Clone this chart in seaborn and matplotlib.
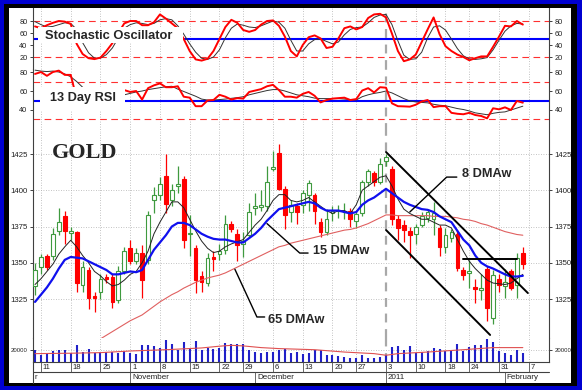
import numpy as np
import pandas as pd
import matplotlib
matplotlib.use("Agg")
import matplotlib.pyplot as plt
from matplotlib.patches import Rectangle
import seaborn as sns

sns.set_style("white")
plt.rcParams['font.family'] = ['Liberation Sans', 'DejaVu Sans']

# =========================
# Data
# =========================
holidays = ['2010-11-25', '2010-12-24', '2011-01-17']
dates = pd.bdate_range('2010-10-08', '2011-02-04')
dates = dates[~dates.isin(pd.to_datetime(holidays))]
idx = np.arange(len(dates))

opens = [1334, 1347, 1355, 1355, 1372, 1382, 1370.5, 1371, 1335, 1345,
         1327, 1330, 1340, 1340, 1324, 1344, 1360, 1351, 1357, 1352,
         1393, 1397, 1410, 1393, 1403, 1408, 1369.5, 1360, 1341, 1336,
         1354, 1356, 1359, 1377, 1370, 1363, 1369, 1388, 1388.5, 1389,
         1415, 1425.5, 1401, 1385, 1389, 1390, 1397, 1397, 1378, 1371,
         1384.5, 1385.5, 1385, 1386, 1379, 1384, 1406, 1412, 1406, 1420,
         1415, 1380.5, 1376, 1372, 1370, 1376, 1381, 1380, 1374, 1361,
         1367, 1370, 1345, 1343, 1333, 1331, 1346, 1312, 1339, 1334,
         1344, 1335, 1356.5]
highs = [1350, 1356, 1356, 1374, 1388, 1386, 1375, 1372, 1351, 1347,
         1330, 1342, 1342, 1342, 1348, 1361, 1366, 1360, 1362, 1386,
         1402, 1409, 1425, 1404, 1417, 1410, 1383, 1362, 1344, 1357,
         1358, 1363, 1383, 1379, 1373, 1371, 1391, 1398, 1400, 1417,
         1427, 1432, 1403, 1393, 1391, 1400, 1407, 1398, 1381, 1387,
         1389, 1390, 1391, 1388, 1386, 1407, 1415, 1413, 1422, 1425,
         1417, 1383, 1379.5, 1375, 1377, 1385, 1387, 1392, 1376, 1374,
         1373, 1372.5, 1347, 1352, 1339, 1342, 1348, 1345, 1342, 1346,
         1346, 1356.5, 1361]
lows = [1328, 1342, 1345, 1352, 1369, 1363, 1366, 1330, 1330, 1318,
        1316, 1325, 1336, 1319, 1322, 1342, 1349, 1349, 1326, 1349,
        1384, 1393, 1384, 1389, 1398, 1360, 1355, 1329, 1330, 1334,
        1344, 1352, 1356, 1371, 1351, 1354, 1368, 1383, 1386, 1386,
        1413, 1400, 1373, 1378, 1377, 1384, 1386, 1377, 1368, 1369,
        1379, 1381, 1380, 1375, 1374, 1382, 1403, 1403, 1404, 1417,
        1376, 1366, 1364.5, 1353, 1363, 1375, 1378, 1369, 1355, 1357,
        1364, 1344, 1338, 1332.5, 1322, 1324, 1310, 1308, 1330, 1325.5,
        1331, 1325.5, 1346]
closes = [1345, 1354, 1347, 1370, 1378, 1372, 1372, 1336, 1347, 1325.5,
          1325.5, 1339, 1339, 1323, 1344, 1358, 1351, 1357, 1338, 1383,
          1397, 1404, 1390.5, 1400, 1404, 1366, 1370.3, 1338, 1337, 1353,
          1352.5, 1358, 1377, 1373, 1362, 1365, 1385, 1389, 1389.5, 1406,
          1416, 1401, 1383, 1390, 1385, 1398, 1405, 1386, 1371, 1380,
          1386, 1386.5, 1386, 1380.5, 1383.5, 1406, 1413, 1406, 1418, 1423,
          1380, 1374, 1372.5, 1369, 1375, 1382, 1385, 1384, 1361, 1369,
          1371, 1346.6, 1341.6, 1344.5, 1332, 1332.5, 1318.6, 1341.6, 1335, 1337,
          1332.4, 1353, 1349]

dma8 = [1335, 1339, 1344, 1349, 1356, 1361, 1365.5, 1361, 1355, 1350,
        1344, 1341, 1337, 1334, 1335, 1338, 1342, 1344, 1350, 1358,
        1370, 1378, 1385, 1392, 1392, 1388, 1380, 1372, 1365, 1360,
        1357, 1358, 1361, 1363, 1364.5, 1366, 1371, 1376, 1380, 1386,
        1393, 1397, 1397, 1393, 1392, 1393, 1395, 1392, 1389, 1386,
        1384, 1386, 1386, 1384, 1390, 1400, 1403, 1406, 1409, 1410,
        1403, 1394, 1387, 1384, 1382, 1380, 1380, 1378, 1376, 1376,
        1374, 1366, 1358, 1351, 1346, 1342, 1338, 1336, 1335.5, 1335,
        1336, 1339, 1342]
dma15 = [1323, 1328, 1333, 1339, 1346, 1352, 1354, 1353.5, 1353, 1351,
         1349, 1347, 1345, 1342, 1342, 1343, 1344, 1343.5, 1345, 1352,
         1359, 1364, 1369, 1375, 1377.5, 1377.5, 1376, 1373, 1370, 1368,
         1366.5, 1366, 1366, 1365, 1364, 1364, 1367, 1370, 1374, 1379,
         1383, 1387, 1388, 1389, 1390, 1391, 1392, 1391, 1388, 1386,
         1386, 1386, 1385, 1384, 1385, 1390, 1393, 1395, 1398, 1401,
         1398, 1395, 1392, 1390, 1388.5, 1387, 1386.5, 1385, 1382, 1380,
         1378, 1372, 1366, 1362, 1355, 1350, 1347.5, 1346, 1344, 1342,
         1340.5, 1340.5, 1341]
dma65_start = 10
dma65 = [1295, 1297.5, 1300, 1302.5, 1305, 1307.5, 1310, 1312, 1314, 1317,
         1320, 1323, 1325.5, 1328, 1330, 1332.5, 1334.5, 1336.5, 1338, 1339.5,
         1340.5, 1341.5, 1343, 1345, 1347, 1349, 1351, 1353, 1355, 1357,
         1359, 1361, 1362, 1363.5, 1364.5, 1365.5, 1366.5, 1367.5, 1368.5, 1369.5,
         1370.5, 1371.5, 1372.5, 1373, 1374, 1375.5, 1377, 1379, 1381, 1383,
         1383, 1382.5, 1382.5, 1382.5, 1382.5, 1382.5, 1382.5, 1382, 1382, 1382,
         1381.5, 1381, 1380, 1379.5, 1378.5, 1377, 1376, 1374.5, 1373, 1371.5,
         1370.5, 1369.5, 1369]

stoch_k = [71, 68, 73, 77, 80, 79, 75, 42, 25, 18,
           16.5, 19, 30, 43, 60, 76, 80, 80, 73, 73,
           78, 91, 84, 76, 68, 50, 30, 16, 14, 17,
           30, 50, 70, 82, 77, 65, 62, 65, 74, 80,
           81, 72, 54, 30, 21, 40, 53, 56, 51, 35,
           37, 51, 68, 71, 66, 70, 85, 91, 92, 86,
           59, 30, 13, 16, 24, 45, 66, 86, 58, 38,
           30, 24, 20, 14.5, 18, 21, 21, 37, 54, 72,
           71, 80, 74]
stoch_d = [79, 74, 70, 71, 74, 77, 76, 66, 44, 27,
           18, 18, 24, 35, 52, 68, 74, 77, 76, 74,
           76, 82, 84, 82, 72, 58, 42, 28, 18, 16,
           20, 32, 52, 68, 75, 73, 70, 69, 72, 76,
           80, 78, 68, 48, 30, 30, 42, 49, 50, 46,
           42, 45, 57, 66, 69, 70, 77, 86, 90, 91,
           74, 47, 23, 16, 17, 28, 52, 70, 72, 65,
           50, 34, 22, 17, 16, 17, 19, 32, 48, 63,
           72, 76, 75]

rsi = [78, 80, 76, 80, 81.5, 77, 77, 52, 56, 48,
       47, 52, 50, 46, 54, 61, 59, 60, 51, 63,
       66, 68, 64, 64, 65, 54, 53, 44, 44, 50,
       50.5, 56, 54, 51, 52.5, 52, 59, 60.5, 62, 65,
       66.5, 61, 54, 54, 53, 57, 59, 55, 48, 50.5,
       52, 52.5, 53, 50.5, 51.5, 60.5, 63, 58.5, 64, 63.5,
       47, 44, 43.8, 43.5, 45.5, 49, 50.5, 43, 44, 44,
       37, 36, 35.5, 37, 34.7, 33.7, 31.2, 41.8, 40.7, 42.8,
       40, 49.5, 47.7]
rsi_ma = [82, 81, 80.5, 81, 80, 78, 75, 70, 64, 58,
          55, 54, 53, 53, 54, 56, 57.5, 59, 60, 61.5,
          62.5, 63.5, 64.5, 65, 62, 59.5, 57, 54.5, 51.5, 50.5,
          50.5, 51, 51.5, 52.3, 53, 54, 56, 57.5, 59, 60.5,
          61.5, 61.5, 60, 58, 56, 55, 54, 52.5, 52, 52,
          52, 52, 51.5, 51, 50.5, 54, 56, 57.5, 58.5, 60,
          58, 55, 52, 49.5, 48.5, 48, 47.5, 46, 45, 44.5,
          43, 41.5, 40.5, 39, 37, 36, 35, 36.5, 37.5, 38,
          40, 42, 44]

volume = [21000, 12500, 16000, 18800, 20000, 21000, 16000, 28500, 17000, 22000,
          16000, 17000, 17000, 17000, 16000, 18800, 16000, 14500, 28500, 28500,
          27500, 24500, 37000, 31500, 21000, 34000, 23000, 36000, 20000, 24500,
          23000, 24000, 33000, 31500, 30000, 30000, 20000, 17000, 15500, 17000,
          17000, 21000, 22900, 15400, 17000, 14300, 16000, 20000, 21000, 12600,
          11500, 9800, 8600, 7500, 6900, 12600, 7500, 6900, 8600, 11500,
          25700, 26800, 21000, 26800, 15400, 17000, 18200, 23900, 22200, 18200,
          18800, 30200, 18800, 25700, 28500, 29600, 40000, 34200, 18200, 16000,
          12600, 20000, 16000]
vol_ma_x = [0, 6, 11, 16, 22, 28, 31, 33, 35, 38, 41, 47, 52, 57, 59, 61, 66, 72, 77, 82]
vol_ma = [14300, 15000, 16000, 18800, 21000, 24000, 27000, 28500, 27500, 24600,
          22900, 21000, 17000, 14300, 11500, 14300, 17000, 21000, 24600, 24600]

# drawn trend lines (day index, price)
channel_upper = ([59.0, 82.85], [1426.4, 1329.1])
channel_lower = ([59.0, 76.5], [1372.6, 1300.2])
resist_line = ([71.9, 81.0], [1352.5, 1352.5])

price_ticks = [1325, 1350, 1375, 1400, 1425]
month_labels = ['r', 'November', 'December', '2011', 'February']

# =========================
# Figure / frame
# =========================
W, H = 582, 390
XMIN, XMAX = -0.34, 86.4
RED = '#ff0000'
GREEN = '#3f9a3f'
BLUE = '#0000ff'

fig = plt.figure(figsize=(W / 100, H / 100), dpi=100)
fig.patch.set_facecolor('#0000d0')
fig.patches.append(Rectangle((4 / W, 1 - 386 / H), 573 / W, 382 / H, transform=fig.transFigure,
                             facecolor='black', edgecolor='none', zorder=-2))
fig.patches.append(Rectangle((9 / W, 1 - 383 / H), 562 / W, 375 / H, transform=fig.transFigure,
                             facecolor='white', edgecolor='none', zorder=-1))


def add_ax(y0, y1, labelsize=5.3):
    ax = fig.add_axes([33 / W, 1 - y1 / H, 516 / W, (y1 - y0) / H])
    ax.set_facecolor('white')
    ax.set_xlim(XMIN, XMAX)
    ax.spines['top'].set_visible(False)
    ax.spines['bottom'].set_visible(False)
    for s in ['left', 'right']:
        ax.spines[s].set_color('#404040')
        ax.spines[s].set_linewidth(0.8)
    ax.set_xticks([])
    ax.tick_params(axis='y', left=True, right=True, labelleft=True, labelright=True,
                   direction='out', length=2.5, width=0.6, pad=1.5,
                   labelsize=labelsize, colors='#222222')
    return ax


ax_st = add_ax(8, 69)
ax_rsi = add_ax(69, 132)
ax_p = add_ax(132, 338, labelsize=5.6)
ax_v = add_ax(338, 362, labelsize=4.3)
ax_d = fig.add_axes([33 / W, 1 - 383 / H, 516 / W, 21 / H])
ax_d.set_xlim(XMIN, XMAX)
ax_d.set_ylim(0, 1)
ax_d.axis('off')

mondays = [i for i in idx if dates[i].weekday() == 0 or (i > 0 and (dates[i] - dates[i - 1]).days > 3)]
mondays = [i for i in mondays if i > 0] + [len(dates)]
year_idx = 59

for ax in [ax_st, ax_rsi, ax_p, ax_v]:
    for m in mondays:
        if m != year_idx:
            ax.axvline(m, color='#b0b0b0', lw=0.6, ls=(0, (1, 2)), zorder=0.5)
    ax.axvline(year_idx, color='#a8a8a8', lw=1.6, ls=(0, (4, 3)), zorder=0.6)

# =========================
# Stochastic panel
# =========================
ax_st.set_ylim(0, 101.7)
ax_st.set_yticks([20, 40, 60, 80])
for lvl in [80, 20]:
    ax_st.axhline(lvl, color='#ff3030', lw=0.8, ls=(0, (6, 4)), zorder=1)
ax_st.axhline(50, color=BLUE, lw=1.5, zorder=1)
sns.lineplot(x=idx, y=stoch_d, ax=ax_st, color='#333333', lw=0.7, legend=False, sort=False, errorbar=None, zorder=2)
sns.lineplot(x=idx, y=stoch_k, ax=ax_st, color=RED, lw=1.4, legend=False, sort=False, errorbar=None, zorder=3)
ax_st.add_patch(Rectangle((0.5, 43.3), 24.4, 26.7, facecolor='white', edgecolor='none', zorder=5))
ax_st.text(1.67, 50, 'Stochastic Oscillator', fontsize=9.3, fontweight='bold', ha='left', va='baseline', zorder=6)
ax_st.set_ylabel('')

# =========================
# RSI panel
# =========================
ax_rsi.set_ylim(16.8, 83.2)
ax_rsi.set_yticks([40, 60, 80])
for lvl in [70, 30]:
    ax_rsi.axhline(lvl, color='#ff3030', lw=0.8, ls=(0, (6, 4)), zorder=1)
ax_rsi.axhline(50, color=BLUE, lw=1.5, zorder=1)
sns.lineplot(x=idx, y=rsi_ma, ax=ax_rsi, color='#333333', lw=0.7, legend=False, sort=False, errorbar=None, zorder=2)
sns.lineplot(x=idx, y=rsi, ax=ax_rsi, color=RED, lw=1.4, legend=False, sort=False, errorbar=None, zorder=3)
ax_rsi.add_patch(Rectangle((0.83, 40), 14.3, 24.2, facecolor='white', edgecolor='none', zorder=5))
ax_rsi.text(2.5, 50, '13 Day RSI', fontsize=9.2, fontweight='bold', ha='left', va='baseline', zorder=6)
ax_rsi.set_ylabel('')

# =========================
# Price panel
# =========================
ax_p.set_ylim(1298.1, 1440.2)
ax_p.set_yticks(price_ticks)
for t in price_ticks:
    ax_p.axhline(t, color='#b0b0b0', lw=0.6, ls=(0, (1, 2)), zorder=0.5)

for i in idx:
    o, h, l, c = opens[i], highs[i], lows[i], closes[i]
    up = c >= o
    col = GREEN if up else RED
    ax_p.vlines(i, l, h, color=col, lw=0.9, zorder=2)
    ax_p.bar(i, max(abs(c - o), 0.7), bottom=min(o, c), width=0.62,
             facecolor='white' if up else RED, edgecolor=col, linewidth=0.8, zorder=3)

sns.lineplot(x=idx[dma65_start:], y=dma65, ax=ax_p, color='#e06060', lw=0.8, legend=False, sort=False, errorbar=None, zorder=4)
sns.lineplot(x=idx, y=dma8, ax=ax_p, color='#222222', lw=0.7, legend=False, sort=False, errorbar=None, zorder=4)
sns.lineplot(x=idx, y=dma15, ax=ax_p, color='#1010ee', lw=1.6, legend=False, sort=False, errorbar=None, zorder=4)

for xs, ys in [channel_upper, channel_lower, resist_line]:
    ax_p.plot(xs, ys, color='black', lw=1.4, zorder=5)

# callouts
ax_p.plot([39.0, 44.5, 45.9], [1377, 1356.7, 1356.7], color='black', lw=1.0, zorder=5)
ax_p.text(46.7, 1356, '15 DMAw', fontsize=9.2, fontweight='bold', ha='left', va='baseline', zorder=6)
ax_p.plot([33.6, 37.3, 38.6], [1345.5, 1312.6, 1312.6], color='black', lw=1.0, zorder=5)
ax_p.text(39.2, 1308.7, '65 DMAw', fontsize=9.2, fontweight='bold', ha='left', va='baseline', zorder=6)
ax_p.plot([63.0, 69.2, 70.9], [1385, 1409.1, 1409.1], color='black', lw=1.0, zorder=5)
ax_p.text(71.8, 1409.3, '8 DMAw', fontsize=9.2, fontweight='bold', ha='left', va='baseline', zorder=6)

ax_p.text(2.85, 1422.4, 'GOLD', fontsize=16, fontweight='bold', family='Liberation Serif',
          ha='left', va='baseline', zorder=6)
ax_p.set_ylabel('')

# =========================
# Volume panel
# =========================
ax_v.set_ylim(0, 41000)
ax_v.set_yticks([20000])
ax_v.spines['bottom'].set_visible(True)
ax_v.spines['bottom'].set_color('#404040')
ax_v.spines['bottom'].set_linewidth(0.8)
ax_v.axhline(20000, color='#b0b0b0', lw=0.6, ls=(0, (1, 2)), zorder=0.5)
ax_v.vlines(idx, 0, volume, color='#2020c8', lw=1.5, zorder=2)
sns.lineplot(x=vol_ma_x, y=vol_ma, ax=ax_v, color='#e05050', lw=0.8, legend=False, sort=False, errorbar=None, zorder=3)
ax_v.set_ylabel('')

# =========================
# Date rows
# =========================
ax_d.plot([XMIN, XMAX], [0.52, 0.52], color='#404040', lw=0.8, clip_on=False)
ax_d.plot([XMIN, XMIN], [0, 1], color='#404040', lw=0.8, clip_on=False)
ax_d.vlines(mondays, 0.52, 1.0, color='#505050', lw=0.6)
for m in mondays:
    day = (dates[m] if m < len(dates) else pd.Timestamp('2011-02-07')).day
    ax_d.text(m + 0.3, 0.76, str(day), fontsize=5.5, ha='left', va='center', color='#222222')

month_starts = [i for i in idx if i > 0 and dates[i].month != dates[i - 1].month]
ax_d.vlines(month_starts, 0, 0.52, color='#505050', lw=0.6)
for pos, lab in zip([-0.17] + [m + 0.3 for m in month_starts], month_labels):
    ax_d.text(pos, 0.25, lab, fontsize=5.8, ha='left', va='center', color='#222222')

fig.savefig('out.png', dpi=100)
